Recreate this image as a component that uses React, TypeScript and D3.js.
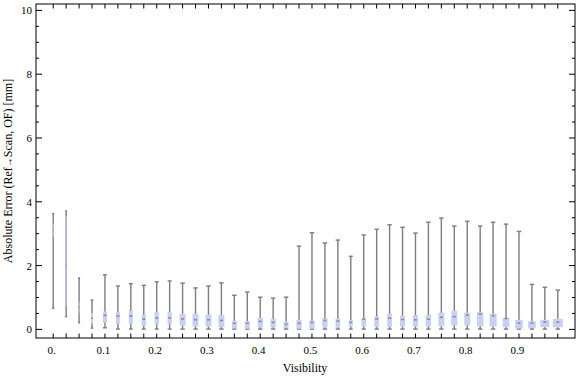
import React from "react";
import * as d3 from "d3";

// Visibility bins (0 .. 0.975 step 0.025)
const visibility = [
  0, 0.025, 0.05, 0.075, 0.1, 0.125, 0.15, 0.175, 0.2, 0.225,
  0.25, 0.275, 0.3, 0.325, 0.35, 0.375, 0.4, 0.425, 0.45, 0.475,
  0.5, 0.525, 0.55, 0.575, 0.6, 0.625, 0.65, 0.675, 0.7, 0.725,
  0.75, 0.775, 0.8, 0.825, 0.85, 0.875, 0.9, 0.925, 0.95, 0.975,
];
const whiskerMin = [
  0.66, 0.4, 0.21, 0.04, 0.05, 0.01, 0.01, 0.01, 0.01, 0.01,
  0.01, 0.01, 0.01, 0.01, 0.01, 0.01, 0.01, 0.01, 0.01, 0.01,
  0.01, 0.01, 0.01, 0.01, 0.01, 0.01, 0.01, 0.01, 0.01, 0.01,
  0.01, 0.01, 0.01, 0.01, 0.01, 0.01, 0.01, 0.01, 0.01, 0.01,
];
const q1 = [
  2.9, 0.75, 0.52, 0.19, 0.21, 0.18, 0.17, 0.11, 0.15, 0.15,
  0.12, 0.09, 0.09, 0.07, 0.03, 0.02, 0.06, 0.06, 0.05, 0.02,
  0.02, 0.06, 0.05, 0.08, 0.09, 0.07, 0.07, 0.09, 0.09, 0.09,
  0.1, 0.12, 0.12, 0.09, 0.09, 0.07, 0.03, 0.04, 0.07, 0.07,
];
const median = [
  3.1, 2.0, 0.7, 0.35, 0.44, 0.42, 0.42, 0.32, 0.36, 0.36,
  0.33, 0.3, 0.3, 0.28, 0.19, 0.19, 0.25, 0.22, 0.16, 0.19,
  0.22, 0.28, 0.26, 0.22, 0.32, 0.33, 0.35, 0.31, 0.3, 0.32,
  0.38, 0.4, 0.45, 0.48, 0.43, 0.34, 0.2, 0.2, 0.23, 0.23,
];
const q3 = [
  3.3, 3.55, 0.85, 0.51, 0.56, 0.55, 0.58, 0.46, 0.55, 0.55,
  0.49, 0.49, 0.46, 0.45, 0.27, 0.26, 0.36, 0.33, 0.24, 0.3,
  0.28, 0.35, 0.34, 0.3, 0.36, 0.41, 0.49, 0.42, 0.45, 0.45,
  0.52, 0.58, 0.52, 0.55, 0.49, 0.36, 0.3, 0.26, 0.3, 0.33,
];
const whiskerMax = [
  3.63, 3.71, 1.61, 0.92, 1.71, 1.36, 1.43, 1.38, 1.49, 1.52,
  1.45, 1.3, 1.36, 1.46, 1.07, 1.17, 1.01, 0.98, 1.01, 2.61,
  3.03, 2.71, 2.8, 2.29, 2.96, 3.14, 3.28, 3.2, 3.02, 3.36,
  3.49, 3.24, 3.39, 3.24, 3.36, 3.3, 3.07, 1.41, 1.32, 1.23,
];
// relative sample counts (drive box widths)
const sampleCount = [
  25, 25, 25, 50, 100, 100, 100, 108, 108, 108,
  150, 150, 150, 150, 125, 125, 132, 132, 125, 132,
  132, 132, 118, 100, 118, 118, 118, 125, 132, 132,
  150, 150, 150, 158, 175, 168, 192, 192, 225, 250,
];
const xTickLabels = ["0.", "0.1", "0.2", "0.3", "0.4", "0.5", "0.6", "0.7", "0.8", "0.9"];
const yTicks = [0, 2, 4, 6, 8, 10];

const W = 576;
const H = 377;
const left = 36, right = 575, top = 4, bottom = 338;

export default function App() {
  const x = d3.scaleLinear().domain([-1.33, visibility.length + 0.33]).range([left, right]);
  const y = d3.scaleLinear().domain([-0.27, 10.2]).range([bottom, top]);
  const wScale = d3.scaleLinear().domain([0, d3.max(sampleCount) as number]).range([0, 10]);
  const minorY = d3.range(0, 10.01, 0.5);
  const fill = "#c8d0f3";
  const whisk = "#7d7d7d";
  const font = "'Liberation Serif', 'Times New Roman', serif";

  return (
    <svg width={W} height={H} style={{ position: "absolute", left: 0, top: 0, background: "#fff" }}>
      {/* boxes */}
      {visibility.map((v, i) => {
        const cx = x(i);
        const bw = wScale(sampleCount[i]);
        const cap = Math.min(4.5, 1.5 + bw * 0.6);
        return (
          <g key={i}>
            <line x1={cx} x2={cx} y1={y(whiskerMin[i])} y2={y(whiskerMax[i])} stroke={whisk} strokeWidth={1.4} />
            <line x1={cx - cap / 2} x2={cx + cap / 2} y1={y(whiskerMax[i])} y2={y(whiskerMax[i])} stroke={whisk} strokeWidth={1.4} />
            <line x1={cx - cap / 2} x2={cx + cap / 2} y1={y(whiskerMin[i])} y2={y(whiskerMin[i])} stroke={whisk} strokeWidth={1.4} />
            <rect x={cx - bw / 2} width={bw} y={y(q3[i])} height={y(q1[i]) - y(q3[i])} fill={fill} />
            <line x1={cx - Math.min(1.5, bw / 2)} x2={cx + Math.min(1.5, bw / 2)} y1={y(median[i])} y2={y(median[i])} stroke="#8c8c9a" strokeWidth={1.6} />
          </g>
        );
      })}

      {/* frame */}
      <rect x={left} y={top} width={right - left} height={bottom - top} fill="none" stroke="#000" strokeWidth={1} />

      {/* x ticks */}
      {visibility.map((v, i) => (
        <g key={"xt" + i}>
          <line x1={x(i)} x2={x(i)} y1={bottom} y2={bottom - 4.5} stroke="#000" />
          <line x1={x(i)} x2={x(i)} y1={top} y2={top + 4.5} stroke="#000" />
        </g>
      ))}
      {xTickLabels.map((t, k) => (
        <text key={"xl" + k} x={x(k * 4) - 1.5} y={354} textAnchor="middle" fontFamily={font} fontSize={11} fill="#000">
          {t}
        </text>
      ))}

      {/* y ticks */}
      {minorY.map((v, k) => {
        const major = Math.abs(v % 2) < 1e-6;
        const len = major ? 6 : 3;
        return (
          <g key={"yt" + k}>
            <line x1={left} x2={left + len} y1={y(v)} y2={y(v)} stroke="#000" />
            <line x1={right} x2={right - len} y1={y(v)} y2={y(v)} stroke="#000" />
          </g>
        );
      })}
      {yTicks.map((v) => (
        <text key={"yl" + v} x={32} y={y(v) + 4} textAnchor="end" fontFamily={font} fontSize={11} fill="#000">
          {v}
        </text>
      ))}

      {/* axis titles */}
      <text x={305} y={372} textAnchor="middle" fontFamily={font} fontSize={12} fill="#000">
        Visibility
      </text>
      <text
        transform={`translate(12, ${(top + bottom) / 2}) rotate(-90)`}
        textAnchor="middle"
        fontFamily={font}
        fontSize={12}
        fill="#000"
      >
        Absolute Error (Ref<tspan fontSize={10}>→</tspan><tspan>Scan, OF) [mm]</tspan>
      </text>
    </svg>
  );
}
